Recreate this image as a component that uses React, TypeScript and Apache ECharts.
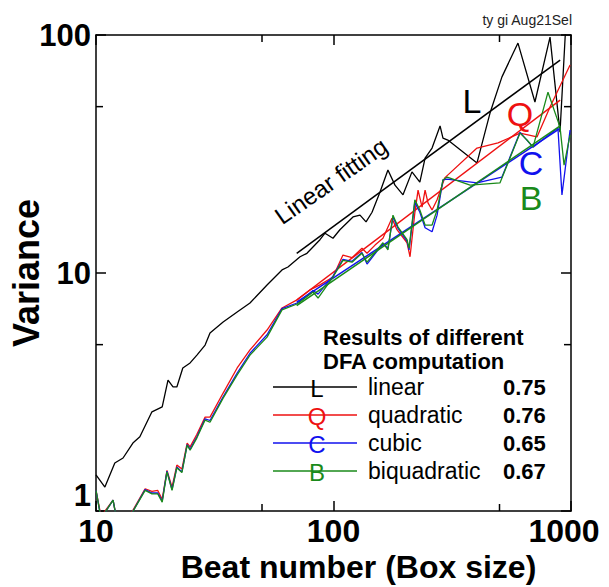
import React, { useEffect, useRef } from 'react';
import * as echarts from 'echarts';

const FONT = '"Liberation Sans", Arial, Helvetica, sans-serif';

// Tick labels
const xTickLabels: Record<number, string> = { 10: '10', 100: '100', 1000: '{m|1000}' };
const yTickLabels: Record<number, string> = { 1: '1', 10: '10', 100: '100' };
const xMinorTicks = [50, 500];
const yMinorTicks = [5, 50];

// Linear DFA (L)
const linearX = [10.0, 10.9, 12.0, 13.0, 14.3, 15.3, 17.2, 19.0, 20.1, 21.1, 21.9, 23.2, 24.9, 26.6, 28.8, 30.2, 34.3, 39.3, 44.5, 52.5, 60.7, 64.3, 72.3, 77.3, 87.7, 92.1, 99.5, 106.4, 120.8, 129.3, 137.1, 145.3, 157, 169.5, 181.5, 196.2, 214, 231, 243, 260, 281, 289, 303, 402, 456, 512, 598, 705, 816, 899, 953];
const linearY = [1.42, 1.26, 1.59, 1.67, 1.93, 2.05, 2.61, 2.74, 3.55, 3.32, 3.32, 3.99, 4.19, 4.52, 4.98, 5.6, 6.22, 6.86, 7.48, 8.91, 10.3, 10.6, 11.7, 12.1, 13.8, 14.7, 14.0, 15.2, 17.2, 17.5, 16.4, 18.0, 21.9, 27.1, 23.4, 21.3, 26.6, 24.1, 30.4, 33.5, 41.5, 36.9, 36.2, 29.0, 47.0, 66.7, 92.5, 52.3, 98, 39.1, 115];

// Quadratic DFA (Q)
const quadX = [10.0, 10.5, 11.8, 12.2, 14.0, 16.1, 17.2, 18.2, 19.0, 19.9, 20.9, 21.9, 23.0, 24.2, 24.9, 26.6, 28.8, 30.2, 34.3, 39.3, 44.5, 52.5, 60.7, 70.2, 79.6, 87.7, 99.5, 109.6, 119.7, 131.8, 138.4, 149.6, 161.5, 176.2, 185, 204, 210, 220, 227, 236, 243, 250, 260, 273, 294, 402, 493, 610, 719, 816, 991];
const quadY = [1.22, 0.95, 1.11, 0.93, 0.97, 1.24, 1.21, 1.22, 1.12, 1.48, 1.26, 1.56, 1.5, 1.93, 1.86, 2.1, 2.48, 2.48, 3.13, 3.99, 4.75, 5.76, 7.13, 7.71, 8.49, 8.91, 9.62, 11.9, 11.6, 12.7, 12.1, 13.1, 14.0, 17.0, 15.2, 13.4, 11.7, 17.9, 22.3, 18.9, 22.3, 19.7, 18.4, 20.3, 25.1, 33.5, 35.2, 38.7, 37.3, 49.8, 74.8];

// Cubic DFA (C)
const cubicX = [10.0, 10.5, 11.8, 12.2, 14.0, 16.1, 17.2, 18.2, 19.0, 19.9, 20.9, 21.9, 23.0, 24.2, 24.9, 26.6, 28.8, 30.2, 34.3, 39.3, 44.5, 52.5, 60.7, 70.2, 72.3, 82.0, 86.1, 99.5, 109.6, 119.7, 131.8, 138.4, 161.5, 169.5, 178, 187, 204, 208, 220, 231, 243, 260, 273, 289, 301, 402, 512, 610, 692, 881, 916, 991];
const cubicY = [1.22, 0.93, 1.11, 0.93, 0.96, 1.23, 1.19, 1.19, 1.1, 1.47, 1.23, 1.53, 1.46, 1.9, 1.82, 2.05, 2.44, 2.4, 3.02, 3.8, 4.6, 5.5, 7.08, 7.48, 7.62, 8.45, 8.15, 9.7, 11.4, 11.2, 12.2, 10.9, 13.3, 12.7, 17.2, 15.4, 13.6, 12.5, 19.8, 18.0, 15.5, 14.9, 17.5, 24.6, 24.8, 23.9, 25.3, 39.0, 33.8, 40.7, 21.3, 39.9];

// Biquadratic DFA (B)
const biquadX = [10.0, 10.5, 11.8, 12.2, 14.0, 16.1, 17.2, 18.2, 19.0, 19.9, 20.9, 21.9, 23.0, 24.2, 24.9, 26.6, 28.8, 30.2, 34.3, 39.3, 44.5, 52.5, 60.7, 70.2, 72.3, 82.0, 86.1, 99.5, 109.6, 119.7, 131.8, 138.4, 161.5, 169.5, 178, 187, 204, 208, 220, 231, 243, 260, 273, 289, 301, 376, 502, 610, 653, 692, 800, 899, 935, 991];
const biquadY = [1.22, 0.93, 1.11, 0.93, 0.96, 1.22, 1.18, 1.18, 1.09, 1.46, 1.22, 1.52, 1.45, 1.89, 1.8, 2.03, 2.41, 2.36, 2.98, 3.73, 4.52, 5.38, 7.0, 7.41, 7.55, 8.32, 7.85, 9.62, 11.3, 11.1, 12.1, 11.1, 13.4, 12.5, 17.5, 15.6, 13.8, 12.7, 20.3, 18.4, 15.9, 15.9, 18.4, 24.6, 25.3, 23.4, 23.9, 38.7, 36.2, 33.8, 57.5, 41.0, 28.4, 38.0];

// Linear fitting lines (end points)
const fitX = [70, 900];
const fitLinearY = [12.1, 78.5];
const fitQuadY = [7.7, 53.3];
const fitCubicY = [7.55, 40.5];
const fitBiquadY = [7.3, 41.5];

// Legend content
const legendLetters = ['L', 'Q', 'C', 'B'];
const legendNames = ['linear', 'quadratic', 'cubic', 'biquadratic'];
const legendValues = ['0.75', '0.76', '0.65', '0.67'];
const colors = ['#000000', '#ee1111', '#1111ee', '#1a8a1a'];

const pairs = (xs: number[], ys: number[]) => xs.map((x, i) => [x, ys[i]]);

export default function App() {
  const ref = useRef<HTMLDivElement>(null);
  useEffect(() => {
    if (!ref.current) return;
    const chart = echarts.init(ref.current, undefined, { renderer: 'svg' });

    const axisLineStyle = { color: '#000', width: 1.5 };
    const lineSeries = (name: string, data: number[][], color: string, width = 1.3) => ({
      name,
      type: 'line',
      data,
      showSymbol: false,
      symbol: 'none',
      lineStyle: { color, width },
      clip: true,
      silent: true,
    });

    const legendRowY = [387, 415, 443, 471];
    const graphics: any[] = [];
    graphics.push({
      type: 'text', x: 572, y: 20,
      style: { text: 'ty gi Aug21Sel', font: `14px ${FONT}`, fill: '#222', textAlign: 'right', textVerticalAlign: 'middle' },
    });
    graphics.push({
      type: 'text', x: 331, y: 181, rotation: (35 * Math.PI) / 180,
      style: { text: 'Linear fitting', font: `24px ${FONT}`, fill: '#000', textAlign: 'center', textVerticalAlign: 'middle' },
    });
    const annot = [
      [472, 101],
      [520, 114],
      [531, 163],
      [531, 198],
    ];
    annot.forEach((p, i) => {
      graphics.push({
        type: 'text', x: p[0], y: p[1],
        style: { text: legendLetters[i], font: `34px ${FONT}`, fill: colors[i], textAlign: 'center', textVerticalAlign: 'middle', lineHeight: 30 },
      });
    });
    graphics.push({
      type: 'text', x: 323, y: 337,
      style: { text: 'Results of different', font: `bold 22px ${FONT}`, fill: '#000', textAlign: 'left', textVerticalAlign: 'middle', lineHeight: 20 },
    });
    graphics.push({
      type: 'text', x: 323, y: 361,
      style: { text: 'DFA computation', font: `bold 22px ${FONT}`, fill: '#000', textAlign: 'left', textVerticalAlign: 'middle', lineHeight: 20 },
    });
    legendRowY.forEach((y, i) => {
      graphics.push({ type: 'line', shape: { x1: 273, y1: y, x2: 357, y2: y }, style: { stroke: colors[i], lineWidth: 1.5 } });
      graphics.push({
        type: 'text', x: 317, y: y + 1,
        style: { text: legendLetters[i], font: `24px ${FONT}`, fill: colors[i], textAlign: 'center', textVerticalAlign: 'middle', lineHeight: 22 },
      });
      graphics.push({
        type: 'text', x: 368, y: y,
        style: { text: legendNames[i], font: `23px ${FONT}`, fill: '#000', textAlign: 'left', textVerticalAlign: 'middle', lineHeight: 24 },
      });
      graphics.push({
        type: 'text', x: 503, y: y,
        style: { text: legendValues[i], font: `bold 22px ${FONT}`, fill: '#000', textAlign: 'left', textVerticalAlign: 'middle', lineHeight: 24 },
      });
    });

    const commonX = {
      type: 'log', logBase: 10, min: 10, max: 1000,
      axisLine: { show: true, onZero: false, lineStyle: axisLineStyle },
      axisTick: { show: true, inside: true, length: 10, lineStyle: axisLineStyle },
      splitLine: { show: false },
      minorTick: { show: false },
    };
    const commonY = {
      type: 'log', logBase: 10, min: 1, max: 100,
      axisLine: { show: true, onZero: false, lineStyle: axisLineStyle },
      axisTick: { show: true, inside: true, length: 10, lineStyle: axisLineStyle },
      splitLine: { show: false },
      minorTick: { show: false },
    };

    const minorTickRender = (isX: boolean) => (params: any, api: any) => {
      const v = api.value(isX ? 0 : 1);
      const len = 7;
      const st = { stroke: '#000', lineWidth: 1.5 };
      if (isX) {
        const b = api.coord([v, 1]);
        const t = api.coord([v, 100]);
        return {
          type: 'group',
          children: [
            { type: 'line', shape: { x1: b[0], y1: b[1], x2: b[0], y2: b[1] - len }, style: st },
            { type: 'line', shape: { x1: t[0], y1: t[1], x2: t[0], y2: t[1] + len }, style: st },
          ],
        };
      }
      const l = api.coord([10, v]);
      const r = api.coord([1000, v]);
      return {
        type: 'group',
        children: [
          { type: 'line', shape: { x1: l[0], y1: l[1], x2: l[0] + len, y2: l[1] }, style: st },
          { type: 'line', shape: { x1: r[0], y1: r[1], x2: r[0] - len, y2: r[1] }, style: st },
        ],
      };
    };

    const option: any = {
      animation: false,
      backgroundColor: '#ffffff',
      grid: { left: 96, top: 35, width: 475, height: 476, outerBoundsMode: 'none', containLabel: false },
      xAxis: [
        {
          ...commonX,
          position: 'bottom',
          axisLabel: {
            show: true, fontSize: 32, fontWeight: 'bold', color: '#000', fontFamily: FONT, margin: 4,
            formatter: (v: number) => xTickLabels[Math.round(v)] ?? '',
            rich: {
              m: { fontSize: 32, fontWeight: 'bold', color: '#000', fontFamily: FONT, padding: [0, 14, 0, 0] },
            },
          },
          name: 'Beat number (Box size)', nameLocation: 'middle', nameGap: 40, nameMoveOverlap: false,
          nameTextStyle: { fontSize: 32, fontWeight: 'bold', color: '#000', fontFamily: FONT, padding: [0, 0, 0, 50] },
        },
        { ...commonX, position: 'top', axisLabel: { show: false } },
      ],
      yAxis: [
        {
          ...commonY,
          position: 'left',
          axisLabel: {
            show: true, fontSize: 31, fontWeight: 'bold', color: '#000', fontFamily: FONT, margin: 5,
            verticalAlignMinLabel: 'bottom',
            formatter: (v: number) => yTickLabels[Math.round(v)] ?? '',
          },
          name: 'Variance', nameLocation: 'middle', nameGap: 52, nameMoveOverlap: false,
          nameTextStyle: { fontSize: 36, fontWeight: 'bold', color: '#000', fontFamily: FONT },
        },
        { ...commonY, position: 'right', axisLabel: { show: false } },
      ],
      series: [
        lineSeries('linear', pairs(linearX, linearY), colors[0]),
        lineSeries('linear fit', pairs(fitX, fitLinearY), colors[0], 1.5),
        lineSeries('quadratic', pairs(quadX, quadY), colors[1]),
        lineSeries('quadratic fit', pairs(fitX, fitQuadY), colors[1], 1.5),
        lineSeries('cubic', pairs(cubicX, cubicY), colors[2]),
        lineSeries('cubic fit', pairs(fitX, fitCubicY), colors[2], 1.5),
        lineSeries('biquadratic', pairs(biquadX, biquadY), colors[3]),
        lineSeries('biquadratic fit', pairs(fitX, fitBiquadY), colors[3], 1.5),
        {
          type: 'custom', silent: true, clip: false,
          data: xMinorTicks.map((v) => [v, 1]),
          renderItem: minorTickRender(true),
        },
        {
          type: 'custom', silent: true, clip: false,
          data: yMinorTicks.map((v) => [10, v]),
          renderItem: minorTickRender(false),
        },
      ],
      graphic: graphics,
    };
    chart.setOption(option);
    return () => chart.dispose();
  }, []);

  return (
    <div
      ref={ref}
      style={{ position: 'fixed', left: 0, top: 0, width: 609, height: 587, background: '#fff' }}
    />
  );
}
